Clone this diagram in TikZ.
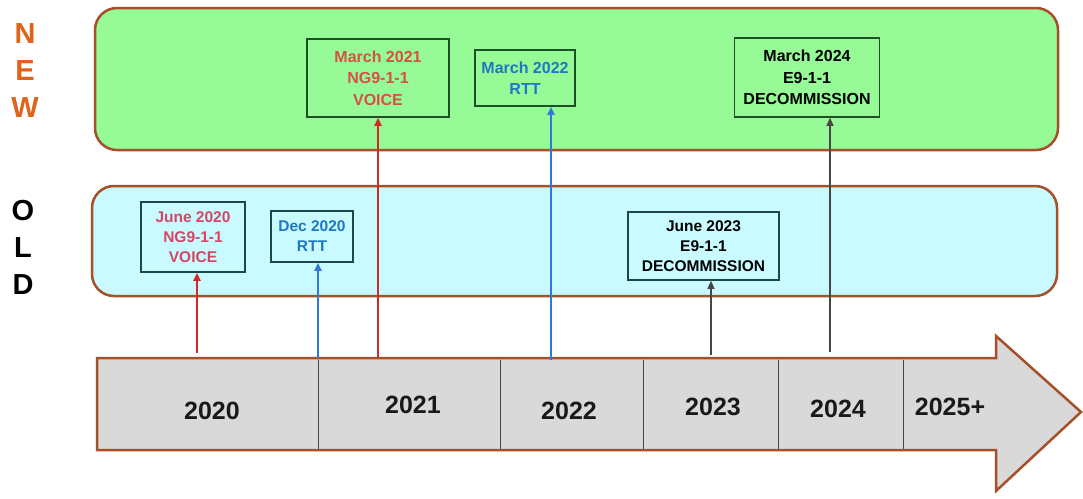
\documentclass[tikz,border=0pt]{standalone}
\usepackage{fontspec}
\setmainfont{Liberation Sans}
\usetikzlibrary{arrows.meta}
\definecolor{bandline}{RGB}{165,80,40}
\definecolor{newfill}{RGB}{150,250,150}
\definecolor{oldfill}{RGB}{200,250,255}
\definecolor{arrowfill}{RGB}{217,217,217}
\definecolor{neworange}{RGB}{222,100,25}
\definecolor{redtxt}{RGB}{215,80,70}
\definecolor{pinktxt}{RGB}{212,70,100}
\definecolor{bluetxt}{RGB}{30,120,195}
\definecolor{redline}{RGB}{210,40,40}
\definecolor{blueline}{RGB}{50,120,215}
\definecolor{greenbox}{RGB}{30,80,40}
\definecolor{tealbox}{RGB}{30,70,70}
\definecolor{divider}{RGB}{70,70,70}
\tikzset{
  band/.style={draw=bandline, line width=2.5pt, rounded corners=22pt},
  evbox/.style={draw=#1, line width=1.6pt, align=center, inner sep=0pt, font=\bfseries},
  txtA/.style={font=\fontsize{16}{21.5}\selectfont\bfseries},
  txtB/.style={font=\fontsize{15.5}{20}\selectfont\bfseries},
  yearlbl/.style={font=\fontsize{25}{30}\selectfont\bfseries, text=black!90},
  sidelbl/.style={font=\fontsize{29}{37}\selectfont\bfseries, align=center},
  conn/.style={line width=1.8pt, -{Triangle[length=8pt,width=7pt]}},
}
\begin{document}
\begin{tikzpicture}[x=1pt,y=-1pt]
\useasboundingbox[fill=white] (0,0) rectangle (1083,498);
% bands
\draw[band, fill=newfill] (95,8) rectangle (1058,150);
\draw[band, fill=oldfill] (92,186) rectangle (1057,296);
% side labels
\node[sidelbl, text=neworange] (new) at (25,71) {N\\E\\W};
\node[sidelbl, text=black] (old) at (23,247) {O\\L\\D};
% timeline arrow
\draw[draw=bandline, line width=2.5pt, fill=arrowfill, line join=miter]
  (97,358) -- (996,358) -- (996,336) -- (1081,412) -- (996,491) -- (996,450) -- (97,450) -- cycle;
\foreach \x in {318,500,643,778,903}
  \draw[divider, line width=1pt] (\x,359.5) -- (\x,448.5);
\node[yearlbl] (y20) at (212,411) {2020};
\node[yearlbl] (y21) at (413,405) {2021};
\node[yearlbl] (y22) at (569,411) {2022};
\node[yearlbl] (y23) at (713,407) {2023};
\node[yearlbl] (y24) at (838,409) {2024};
\node[yearlbl] (y25) at (950,407) {2025+};
% event boxes
\node[evbox=greenbox, txtA, text=redtxt, minimum width=142pt, minimum height=78pt] (m21) at (378,78) {March 2021\\NG9-1-1\\VOICE};
\node[evbox=greenbox, txtA, text=bluetxt, minimum width=100pt, minimum height=56pt] (m22) at (525,78) {March 2022\\RTT};
\node[evbox=greenbox, txtA, text=black, minimum width=145pt, minimum height=79pt] (m24) at (807,77.5) {March 2024\\E9-1-1\\DECOMMISSION};
\node[evbox=tealbox, txtB, text=pinktxt, minimum width=104pt, minimum height=70pt] (j20) at (193,237) {June 2020\\NG9-1-1\\VOICE};
\node[evbox=tealbox, txtB, text=bluetxt, minimum width=82pt, minimum height=51pt] (d20) at (312,236.5) {Dec 2020\\RTT};
\node[evbox=tealbox, txtB, text=black, minimum width=151pt, minimum height=68pt] (j23) at (703.5,246) {June 2023\\E9-1-1\\DECOMMISSION};
% connector starts
\coordinate (s20) at (197,353);
\coordinate (sd20) at (318,358);
\coordinate (s21) at (378,358);
\coordinate (s22) at (551,360);
\coordinate (s23) at (711,355);
\coordinate (s24) at (830,352);
% connectors
\draw[conn, redline] (s20) -- (s20 |- j20.south);
\draw[conn, blueline] (sd20) -- (sd20 |- d20.south);
\draw[conn, redline] (s21) -- (s21 |- m21.south);
\draw[conn, blueline] (s22) -- (s22 |- m22.south);
\draw[conn, divider, line width=1.2pt] (s23) -- (s23 |- j23.south);
\draw[conn, divider, line width=1.2pt] (s24) -- (s24 |- m24.south);
\end{tikzpicture}
\end{document}
